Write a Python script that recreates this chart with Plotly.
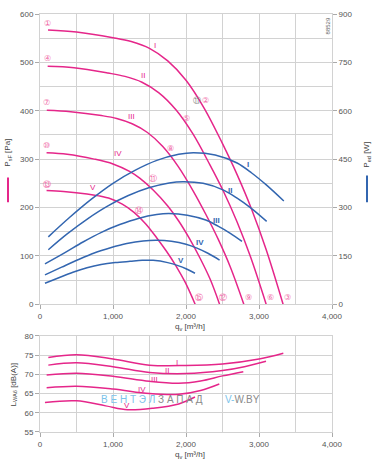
import plotly.graph_objects as go

# ---------------- data ----------------
# static pressure curves p_sF [Pa] vs q_v [m3/h]
q_p_I = [110, 500, 1000, 1250, 1500, 1750, 2000, 2250, 2500, 2700, 2900, 3100, 3330]
p_I = [567, 563, 551, 543, 529, 503, 463, 405, 332, 268, 196, 112, 0]
q_p_II = [105, 466, 931, 1164, 1397, 1629, 1862, 2095, 2328, 2514, 2700, 2886, 3098]
p_II = [492, 489, 478, 471, 459, 437, 402, 352, 288, 233, 170, 97, 0]
q_p_III = [93, 420, 841, 1051, 1262, 1472, 1682, 1892, 2103, 2271, 2439, 2607, 2792]
p_III = [401, 398, 390, 384, 373, 355, 326, 285, 233, 186, 135, 77, 0]
q_p_IV = [90, 372, 743, 1000, 1233, 1370, 1550, 1750, 1900, 2050, 2200, 2330, 2460]
p_IV = [313, 310, 300, 290, 274, 260, 236, 203, 172, 135, 93, 52, 0]
q_p_V = [90, 322, 644, 805, 966, 1127, 1288, 1449, 1600, 1730, 1860, 1990, 2125]
p_V = [235, 233, 228, 224, 218, 207, 190, 166, 137, 110, 80, 45, 0]

# power input curves P_ed [W]
q_w_I = [114, 400, 700, 1000, 1300, 1600, 1900, 2100, 2400, 2700, 2900, 3100, 3340]
w_I = [209, 268, 325, 375, 415, 446, 465, 470, 463, 438, 407, 370, 320]
q_w_II = [114, 372, 652, 931, 1210, 1490, 1769, 1955, 2234, 2514, 2700, 2886, 3105]
w_II = [169, 218, 265, 305, 337, 361, 376, 380, 375, 354, 329, 299, 257]
q_w_III = [68, 336, 589, 841, 1093, 1346, 1598, 1766, 2018, 2271, 2439, 2607, 2767]
w_III = [125, 159, 193, 223, 247, 266, 278, 281, 276, 261, 242, 220, 195]
q_w_IV = [68, 297, 520, 743, 966, 1189, 1412, 1600, 1800, 2000, 2150, 2300, 2460]
w_IV = [91, 115, 138, 159, 175, 188, 196, 198, 195, 186, 174, 158, 137]
q_w_V = [68, 258, 451, 644, 837, 1030, 1233, 1400, 1550, 1750, 1900, 2000, 2123]
w_V = [65, 82, 99, 113, 123, 129, 133, 136, 136, 129, 119, 110, 96]

# sound power L_WA6 [dB(A)]
q_l_I = [114, 500, 1000, 1500, 2000, 2500, 3000, 3333]
l_I = [74.4, 75.1, 74.0, 72.4, 72.3, 72.7, 74.0, 75.5]
q_l_II = [114, 500, 1000, 1500, 2000, 2500, 2800, 3096]
l_II = [72.4, 73.0, 72.0, 70.5, 70.2, 71.0, 72.0, 73.4]
q_l_III = [91, 500, 1000, 1500, 1900, 2200, 2500, 2785]
l_III = [69.8, 70.3, 69.5, 68.2, 67.7, 68.3, 69.6, 70.7]
q_l_IV = [91, 500, 1000, 1500, 1900, 2200, 2456]
l_IV = [66.5, 66.9, 66.2, 65.0, 64.8, 65.8, 67.5]
q_l_V = [68, 500, 900, 1200, 1550, 1900, 2123]
l_V = [62.7, 63.1, 61.8, 60.8, 61.2, 62.3, 64.1]

roman = ["I", "II", "III", "IV", "V"]
# label positions
lab_p_q = [1575, 1416, 1256, 1073, 730]
lab_p_v = [535, 472, 388, 312, 242]
lab_w_q = [2849, 2603, 2411, 2192, 1932]
lab_w_v = [433, 353, 261, 190, 135]
lab_l_q = [1872, 1735, 1562, 1393, 1187]
lab_l_v = [73.1, 71.0, 68.6, 66.0, 62.0]

pt_text = ["①", "④", "⑦", "⑩", "⑬", "②", "⑤", "⑧", "⑪", "⑭", "③", "⑥", "⑨", "⑫", "⑮"]
pt_q = [105, 105, 92, 92, 92, 2270, 2009, 1790, 1553, 1360, 3393, 3164, 2853, 2511, 2183]
pt_p = [581, 508, 418, 328, 248, 421, 385, 321, 259, 193, 13, 13, 13, 13, 13]

x_ticks = [0, 1000, 2000, 3000, 4000]

# ---------------- figure ----------------
PINK = "#e5268a"
BLUE = "#3366b0"
GRID = "#d2d2d2"
TXT = "#555555"
FONT = "Liberation Sans"

fig = go.Figure()

pcurves = [(q_p_I, p_I), (q_p_II, p_II), (q_p_III, p_III), (q_p_IV, p_IV), (q_p_V, p_V)]
wcurves = [(q_w_I, w_I), (q_w_II, w_II), (q_w_III, w_III), (q_w_IV, w_IV), (q_w_V, w_V)]
lcurves = [(q_l_I, l_I), (q_l_II, l_II), (q_l_III, l_III), (q_l_IV, l_IV), (q_l_V, l_V)]

for q, w in wcurves:
    fig.add_trace(go.Scatter(x=q, y=w, mode="lines", line=dict(color=BLUE, width=1.5, shape="spline"),
                             xaxis="x", yaxis="y3", showlegend=False, hoverinfo="skip"))
for q, p in pcurves:
    fig.add_trace(go.Scatter(x=q, y=p, mode="lines", line=dict(color=PINK, width=1.5, shape="spline"),
                             xaxis="x", yaxis="y", showlegend=False, hoverinfo="skip"))
for q, l in lcurves:
    fig.add_trace(go.Scatter(x=q, y=l, mode="lines", line=dict(color=PINK, width=1.5, shape="spline"),
                             xaxis="x2", yaxis="y2", showlegend=False, hoverinfo="skip"))

ann = []
for i, r in enumerate(roman):
    ann.append(dict(x=lab_p_q[i], y=lab_p_v[i], xref="x", yref="y", text=r, showarrow=False,
                    xanchor="center", yanchor="middle", font=dict(size=8, color=PINK, family=FONT)))
    ann.append(dict(x=lab_w_q[i], y=lab_w_v[i], xref="x", yref="y3", text="<b>" + r + "</b>", showarrow=False,
                    xanchor="center", yanchor="middle", font=dict(size=8, color=BLUE, family=FONT)))
    ann.append(dict(x=lab_l_q[i], y=lab_l_v[i], xref="x2", yref="y2", text=r, showarrow=False,
                    xanchor="center", yanchor="middle", font=dict(size=8, color=PINK, family=FONT)))
for t, q, p in zip(pt_text, pt_q, pt_p):
    ann.append(dict(x=q, y=p, xref="x", yref="y", text=t, showarrow=False,
                    xanchor="center", yanchor="middle",
                    font=dict(size=8, color="#f06aa8", family="DejaVu Sans")))
ann.append(dict(x=2146, y=421, xref="x", yref="y", text="⑪", showarrow=False,
                xanchor="center", yanchor="middle", font=dict(size=8, color="#888888", family="DejaVu Sans")))

# axis titles and misc text (paper coords; plot x 40..332 px, y 10..432 px)
def px(xp):
    return (xp - 40) / 292.0

def py(yp):
    return (432 - yp) / 422.0

def note(x, y, text, size=8, color="#444", angle=0):
    return dict(x=px(x), y=py(y), xref="paper", yref="paper", text=text, textangle=angle,
                xanchor="center", yanchor="middle", showarrow=False,
                font=dict(size=size, color=color, family=FONT))

ann += [
    note(8, 150, "P<sub>sF</sub> [Pa]", angle=-90),
    note(367, 152, "P<sub>ed</sub> [W]", angle=-90),
    note(14, 384, "L<sub>WA6</sub> [dB(A)]", angle=-90),
    note(190, 326, "q<sub>v</sub> [m³/h]"),
    note(190, 455, "q<sub>v</sub> [m³/h]"),
    note(327.5, 22, "88529", size=6, color="#666", angle=-90),
    note(152, 399, "<span style='color:#7cc3ea'>В Е Н Т Э Л</span> З А П А Д", size=10, color="#8a8a8a"),
    note(242, 399, "<span style='color:#7cc3ea'>V-</span>W.BY", size=10, color="#8a8a8a"),
]

shapes = [
    dict(type="line", xref="paper", yref="paper", x0=px(8), x1=px(8), y0=py(175), y1=py(200),
         line=dict(color=PINK, width=2)),
    dict(type="line", xref="paper", yref="paper", x0=px(367), x1=px(367), y0=py(173), y1=py(200),
         line=dict(color=BLUE, width=2)),
]

axis_common = dict(showline=True, linecolor=GRID, linewidth=1, mirror=True, gridcolor=GRID, gridwidth=1,
                   ticks="outside", ticklen=4, tickcolor="#aaaaaa", zeroline=False,
                   tickfont=dict(size=8, color=TXT, family=FONT))

fig.update_layout(
    width=381, height=462,
    margin=dict(l=40, r=49, t=10, b=30),
    paper_bgcolor="white", plot_bgcolor="white",
    showlegend=False,
    xaxis=dict(domain=[0, 1], range=[0, 4000], anchor="y", tickvals=x_ticks, tickformat=",",
               minor=dict(dtick=500, showgrid=True, gridcolor=GRID, ticks=""), **axis_common),
    yaxis=dict(domain=[py(303), 1], range=[0, 600], dtick=100, anchor="x",
               minor=dict(dtick=50, showgrid=True, gridcolor=GRID, ticks=""), **axis_common),
    yaxis3=dict(overlaying="y", side="right", range=[0, 900], dtick=150, anchor="x", showgrid=False,
                showline=False, ticks="outside", ticklen=4, tickcolor="#aaaaaa", zeroline=False,
                tickfont=dict(size=8, color=TXT, family=FONT)),
    xaxis2=dict(domain=[0, 1], range=[0, 4000], anchor="y2", tickvals=x_ticks, tickformat=",",
                minor=dict(dtick=500, showgrid=True, gridcolor=GRID, ticks=""), **axis_common),
    yaxis2=dict(domain=[0, py(335)], range=[55, 80], dtick=5, anchor="x2", **axis_common),
    annotations=ann,
    shapes=shapes,
)

fig.write_html("out.html", config={"displayModeBar": False},
               post_script="document.body.style.margin='0';document.body.style.overflow='hidden';")
